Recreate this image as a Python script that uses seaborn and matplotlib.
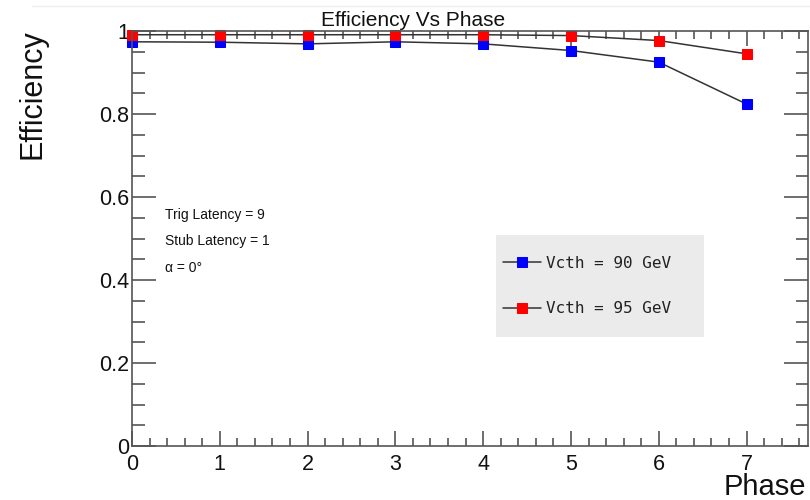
import matplotlib
matplotlib.use("Agg")
import matplotlib.pyplot as plt
from matplotlib.ticker import MultipleLocator
from matplotlib.lines import Line2D
from matplotlib.patches import Rectangle
import seaborn as sns
import pandas as pd

phase = [0, 1, 2, 3, 4, 5, 6, 7]
eff_90 = [0.974, 0.973, 0.969, 0.974, 0.969, 0.953, 0.925, 0.824]
eff_95 = [0.991, 0.991, 0.991, 0.991, 0.991, 0.989, 0.977, 0.945]
series_labels = ["Vcth = 90 GeV", "Vcth = 95 GeV"]
series_colors = ["#0000ff", "#ff0000"]
notes = ["Trig Latency = 9", "Stub Latency = 1", "α = 0°"]

sns.set_theme(style="white")
plt.rcParams["font.family"] = ["Liberation Sans", "DejaVu Sans"]

fig = plt.figure(figsize=(8.1, 5.0), dpi=100)
ax = fig.add_axes([132 / 810, 54 / 500, 676 / 810, 415 / 500])

for vals, lab, col in zip([eff_90, eff_95], series_labels, series_colors):
    df = pd.DataFrame({"Phase": phase, "Efficiency": vals})
    sns.lineplot(data=df, x="Phase", y="Efficiency", ax=ax, color="#333333",
                 linewidth=1.1, marker="s", markersize=7.5,
                 markerfacecolor=col, markeredgecolor=col, label=lab,
                 clip_on=False, zorder=3)

ax.set_xlim(0, 7.7)
ax.set_ylim(0, 1.0)
ax.xaxis.set_major_locator(MultipleLocator(1))
ax.xaxis.set_minor_locator(MultipleLocator(0.2))
ax.yaxis.set_major_locator(MultipleLocator(0.2))
ax.yaxis.set_minor_locator(MultipleLocator(0.05))
ax.set_xticks(phase)
ax.set_xticklabels([str(p) for p in phase])
ax.set_yticks([0, 0.2, 0.4, 0.6, 0.8, 1.0])
ax.set_yticklabels(["0", "0.2", "0.4", "0.6", "0.8", "1"])

spine_col = "#555555"
for s in ax.spines.values():
    s.set_color(spine_col)
    s.set_linewidth(1.2)
    s.set_visible(True)
    s.set_zorder(5)

ax.tick_params(axis="x", which="major", direction="in", length=11, width=1.2,
               color=spine_col, top=True, bottom=True, labelsize=15.5, pad=6)
ax.tick_params(axis="x", which="minor", direction="in", length=5.5, width=1.2,
               color=spine_col, top=True, bottom=True)
ax.tick_params(axis="y", which="major", direction="in", length=17, width=1.2,
               color=spine_col, left=True, right=True, labelsize=15.5, pad=2)
ax.tick_params(axis="y", which="minor", direction="in", length=9, width=1.2,
               color=spine_col, left=True, right=True)
for t in ax.get_xticklabels() + ax.get_yticklabels():
    t.set_color("#111111")

ax.set_xlabel("")
ax.set_ylabel("")
fig.text(0.040, 1 - 94 / 500, "Efficiency", rotation=90, fontsize=22,
         ha="center", va="center", color="#111111")
fig.text(806 / 810, 1 - 487 / 500, "Phase", fontsize=21, ha="right",
         va="center", color="#111111")
fig.text(413 / 810, 1 - 20 / 500, "Efficiency Vs Phase", fontsize=15,
         ha="center", va="center", color="#111111",
         family=["Liberation Sans Narrow", "Liberation Sans", "DejaVu Sans"])

for note, yv in zip(notes, [0.557, 0.494, 0.429]):
    ax.text(0.375, yv, note, fontsize=10, ha="left", va="center",
            color="#111111")

# legend box
ax.add_patch(Rectangle((0.539, 0.263), 0.307, 0.245, transform=ax.transAxes,
                       facecolor="#ebebeb", edgecolor="none", zorder=1))
handles, labels = ax.get_legend_handles_labels()
leg = ax.legend(handles, labels, loc="center", bbox_to_anchor=(0.673, 0.3855),
                frameon=False, handlelength=2.4, handletextpad=0.3,
                labelspacing=1.9,
                prop={"family": "DejaVu Sans Mono", "size": 11.5})
for t in leg.get_texts():
    t.set_color("#222222")

fig.add_artist(Line2D([0.04, 1.0], [1 - 6 / 500, 1 - 6 / 500],
                      transform=fig.transFigure, color="#eeeeee", linewidth=1))

fig.savefig("out.png", dpi=100)
